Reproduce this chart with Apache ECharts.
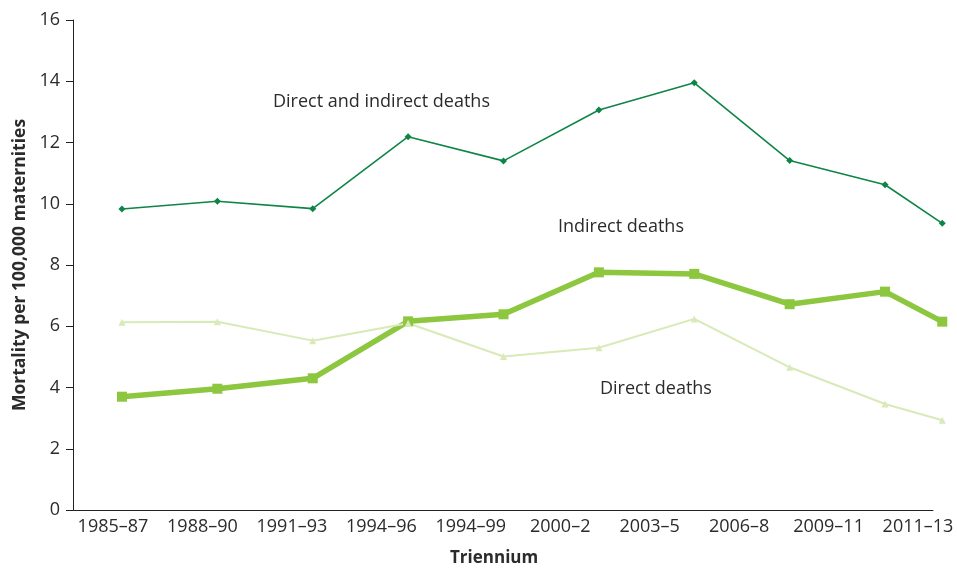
<!DOCTYPE html>
<html>
<head>
<meta charset="utf-8">
<script src="https://cdn.jsdelivr.net/npm/echarts@6/dist/echarts.min.js"></script>
<style>
html,body{margin:0;padding:0;background:#fff;}
#c{width:957px;height:568px;}
</style>
</head>
<body>
<div id="c"></div>
<script>
// Tick labels shown under the x axis (as printed in the source)
const trienniumLabels = ['1985–87','1988–90','1991–93','1994–96','1994–99','2000–2','2003–5','2006–8','2009–11','2011–13'];
// Mid-year position of each plotted triennium
const midYears = [1986, 1989, 1992, 1995, 1998, 2001, 2004, 2007, 2010, 2011.8];
// Mortality per 100,000 maternities
const directAndIndirect = [9.83, 10.08, 9.84, 12.19, 11.40, 13.06, 13.95, 11.41, 10.62, 9.36];
const indirectDeaths   = [3.70, 3.96, 4.30, 6.16, 6.39, 7.76, 7.71, 6.72, 7.13, 6.15];
const directDeaths     = [6.13, 6.15, 5.53, 6.10, 5.01, 5.30, 6.24, 4.66, 3.46, 2.93];

const pairs = vals => vals.map((v, i) => [midYears[i], v]);
const FONT = '"Open Sans", "Noto Sans", sans-serif';
const TXT = '#2b2b2b';

// Shared x scale: 31.79 px per year, axis line ends at 2011.51 but
// plotting area extends a little further so the last points are not clipped.
const X_MIN = 1984.46, X_AXIS_MAX = 2011.51, X_PLOT_MAX = 2011.98;

const chart = echarts.init(document.getElementById('c'), null, {renderer: 'canvas'});
chart.setOption({
  animation: false,
  backgroundColor: '#fff',
  textStyle: {fontFamily: FONT},
  grid: [
    {left: 73, right: 24, top: 20, bottom: 58},
    {left: 113, right: 39, top: 20, bottom: 58},
    {left: 73, right: 9, top: 20, bottom: 58}
  ],
  xAxis: [
    {
      type: 'value', gridIndex: 0, min: X_MIN, max: X_AXIS_MAX,
      axisLine: {show: true, lineStyle: {color: '#222', width: 1}},
      axisTick: {show: false}, axisLabel: {show: false}, splitLine: {show: false}
    },
    {
      type: 'value', gridIndex: 1, min: 0, max: 9, interval: 1,
      axisLine: {show: false}, axisTick: {show: false}, splitLine: {show: false},
      axisLabel: {
        show: true, fontSize: 18, color: TXT, fontFamily: FONT, margin: 8,
        formatter: v => trienniumLabels[Math.round(v)] || ''
      }
    },
    {
      type: 'value', gridIndex: 2, min: X_MIN, max: X_PLOT_MAX, show: false
    }
  ],
  yAxis: [
    {
      type: 'value', gridIndex: 0, min: 0, max: 16, interval: 2,
      name: 'Mortality per 100,000 maternities',
      nameLocation: 'middle', nameGap: 43,
      nameTextStyle: {fontSize: 17.5, fontWeight: 'bold', color: TXT, fontFamily: FONT},
      axisLine: {show: true, lineStyle: {color: '#222', width: 1}},
      axisTick: {show: true, length: 7, lineStyle: {color: '#222'}},
      axisLabel: {fontSize: 18, color: TXT, fontFamily: FONT, margin: 13},
      splitLine: {show: false}
    },
    {type: 'value', gridIndex: 1, min: 0, max: 16, show: false},
    {type: 'value', gridIndex: 2, min: 0, max: 16, show: false}
  ],
  graphic: [
    {type: 'text', left: 273, top: 93, style: {text: 'Direct and indirect deaths', font: '18px ' + FONT, fill: TXT}},
    {type: 'text', left: 558, top: 218, style: {text: 'Indirect deaths', font: '18px ' + FONT, fill: TXT}},
    {type: 'text', left: 600, top: 380, style: {text: 'Direct deaths', font: '18px ' + FONT, fill: TXT}},
    {type: 'text', left: 450, top: 550, style: {text: 'Triennium', font: 'bold 17px ' + FONT, fill: TXT}}
  ],
  series: [
    {
      name: 'Indirect deaths', type: 'line', xAxisIndex: 2, yAxisIndex: 2,
      data: pairs(indirectDeaths),
      symbol: 'rect', symbolSize: 10, showAllSymbol: true,
      lineStyle: {color: '#8dc63f', width: 5.5},
      itemStyle: {color: '#8dc63f'}
    },
    {
      name: 'Direct deaths', type: 'line', xAxisIndex: 2, yAxisIndex: 2,
      data: pairs(directDeaths),
      symbol: 'triangle', symbolSize: 7, showAllSymbol: true,
      lineStyle: {color: '#d7eab8', width: 2},
      itemStyle: {color: '#d7eab8'}
    },
    {
      name: 'Direct and indirect deaths', type: 'line', xAxisIndex: 2, yAxisIndex: 2,
      data: pairs(directAndIndirect),
      symbol: 'diamond', symbolSize: 7, showAllSymbol: true,
      lineStyle: {color: '#0e8547', width: 1.6},
      itemStyle: {color: '#0e8547'}
    }
  ]
});
</script>
</body>
</html>
